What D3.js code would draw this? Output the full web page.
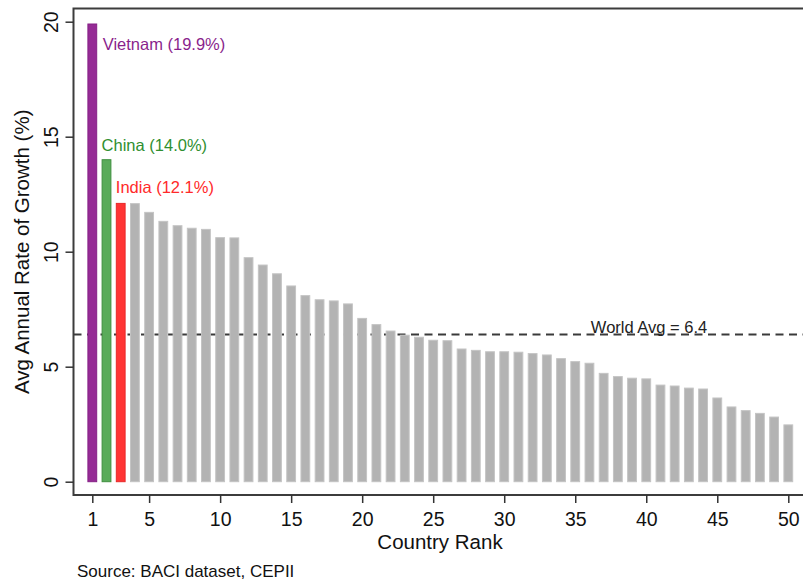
<!DOCTYPE html>
<html>
<head>
<meta charset="utf-8">
<script src="https://cdn.jsdelivr.net/npm/d3@7"></script>
<style>
  html, body { margin: 0; padding: 0; background: #fff; }
  svg { display: block; font-family: "Liberation Sans", Helvetica, Arial, sans-serif; }
</style>
</head>
<body>
<div id="app"></div>
<script>
// country ranks 1..50 and their average annual growth (%)
const ranks = d3.range(1, 51);
const growth = [
  19.9, 14.0, 12.1, 12.09, 11.71, 11.32, 11.13, 11.02, 10.97, 10.61,
  10.6, 9.74, 9.42, 9.04, 8.51, 8.09, 7.91, 7.86, 7.73, 7.10,
  6.83, 6.55, 6.37, 6.28, 6.15, 6.13, 5.77, 5.71, 5.65, 5.65,
  5.63, 5.57, 5.51, 5.35, 5.22, 5.15, 4.71, 4.57, 4.50, 4.47,
  4.20, 4.16, 4.07, 4.03, 3.64, 3.25, 3.09, 2.97, 2.81, 2.47
];
const highlightNames = ["Vietnam", "China", "India"];
const worldAvg = 6.4;
const xTicks = [1, 5, 10, 15, 20, 25, 30, 35, 40, 45, 50];
const yTicks = [0, 5, 10, 15, 20];

const width = 803;
const height = 580;

const fills = ["#952b95", "#5aab5a", "#ff3434"];
const strokes = ["#862186", "#3f8f3f", "#e82a2a"];
const labelColors = ["#8a1f8c", "#2f8f2f", "#ff2a2a"];
const grayFill = "#b3b3b3";
const grayStroke = "#c4c4c4";

const plot = { left: 73.5, top: 8.5, bottom: 495, right: 812 };

const x = d3.scaleLinear().domain([1, 50]).range([92.3, 788.3]);
const y = d3.scaleLinear().domain([0, 20]).range([481.7, 21.7]);
const barW = (x(2) - x(1)) * 0.69;

const svg = d3.select('#app')
  .append('svg')
  .attr('width', width)
  .attr('height', height);

// world average dashed line (behind the bars)
svg.append('line')
  .attr('x1', plot.left)
  .attr('x2', plot.right)
  .attr('y1', y(worldAvg))
  .attr('y2', y(worldAvg))
  .attr('stroke', '#3a3a3a')
  .attr('stroke-width', 2)
  .attr('stroke-dasharray', '8,5.5');

// bars
svg.selectAll('.bar')
  .data(growth)
  .enter()
  .append('rect')
  .attr('class', 'bar')
  .attr('x', (d, i) => x(ranks[i]) - barW / 2 + 0.5)
  .attr('y', d => y(d))
  .attr('width', barW - 1)
  .attr('height', d => y(0) - y(d))
  .attr('fill', (d, i) => i < 3 ? fills[i] : grayFill)
  .attr('stroke', (d, i) => i < 3 ? strokes[i] : grayStroke)
  .attr('stroke-width', 1);

svg.append('text')
  .attr('x', x(36.1))
  .attr('y', y(worldAvg) - 1.5)
  .attr('font-size', '16.5px')
  .attr('fill', '#222')
  .text('World Avg = ' + worldAvg);

// highlight labels
const labelOffsets = [
  { dx: barW / 2 + 5.5, dy: 26 },
  { dx: -barW / 2, dy: -9 },
  { dx: -barW / 2, dy: -10 }
];
highlightNames.forEach((name, i) => {
  svg.append('text')
    .attr('x', x(ranks[i]) + labelOffsets[i].dx)
    .attr('y', y(growth[i]) + labelOffsets[i].dy)
    .attr('font-size', '16.5px')
    .attr('fill', labelColors[i])
    .text(`${name} (${growth[i].toFixed(1)}%)`);
});

// frame: left, top, bottom
svg.append('path')
  .attr('d', `M${plot.right},${plot.top}H${plot.left}V${plot.bottom}H${plot.right}`)
  .attr('fill', 'none')
  .attr('stroke', '#3c3c3c')
  .attr('stroke-width', 2);

// y axis
const yAxis = svg.append('g')
  .attr('transform', `translate(${plot.left},0)`)
  .call(d3.axisLeft(y).tickValues(yTicks).tickSize(8).tickPadding(0));
yAxis.select('.domain').remove();
yAxis.selectAll('line').attr('stroke', '#333').attr('stroke-width', 1.5);
yAxis.selectAll('text')
  .attr('transform', 'rotate(-90)')
  .attr('x', 0)
  .attr('y', -16)
  .attr('dy', 0)
  .attr('text-anchor', 'middle')
  .attr('fill', '#111')
  .style('font-size', '19.5px')
  .style('font-family', '"Liberation Sans", Helvetica, Arial, sans-serif');

// x axis
const xAxis = svg.append('g')
  .attr('transform', `translate(0,${plot.bottom})`)
  .call(d3.axisBottom(x).tickValues(xTicks).tickSize(8).tickPadding(0));
xAxis.select('.domain').remove();
xAxis.selectAll('line').attr('stroke', '#333').attr('stroke-width', 1.5);
xAxis.selectAll('text')
  .attr('y', 31)
  .attr('dy', 0)
  .attr('fill', '#111')
  .style('font-size', '19.5px')
  .style('font-family', '"Liberation Sans", Helvetica, Arial, sans-serif');

// axis titles
svg.append('text')
  .attr('transform', `translate(29,${(plot.top + plot.bottom) / 2}) rotate(-90)`)
  .attr('text-anchor', 'middle')
  .attr('font-size', '20.5px')
  .attr('fill', '#111')
  .text('Avg Annual Rate of Growth (%)');

svg.append('text')
  .attr('x', 440)
  .attr('y', 549)
  .attr('text-anchor', 'middle')
  .attr('font-size', '20.5px')
  .attr('fill', '#111')
  .text('Country Rank');

svg.append('text')
  .attr('x', 77)
  .attr('y', 577)
  .attr('font-size', '17px')
  .attr('fill', '#111')
  .text('Source: BACI dataset, CEPII');
</script>
</body>
</html>
